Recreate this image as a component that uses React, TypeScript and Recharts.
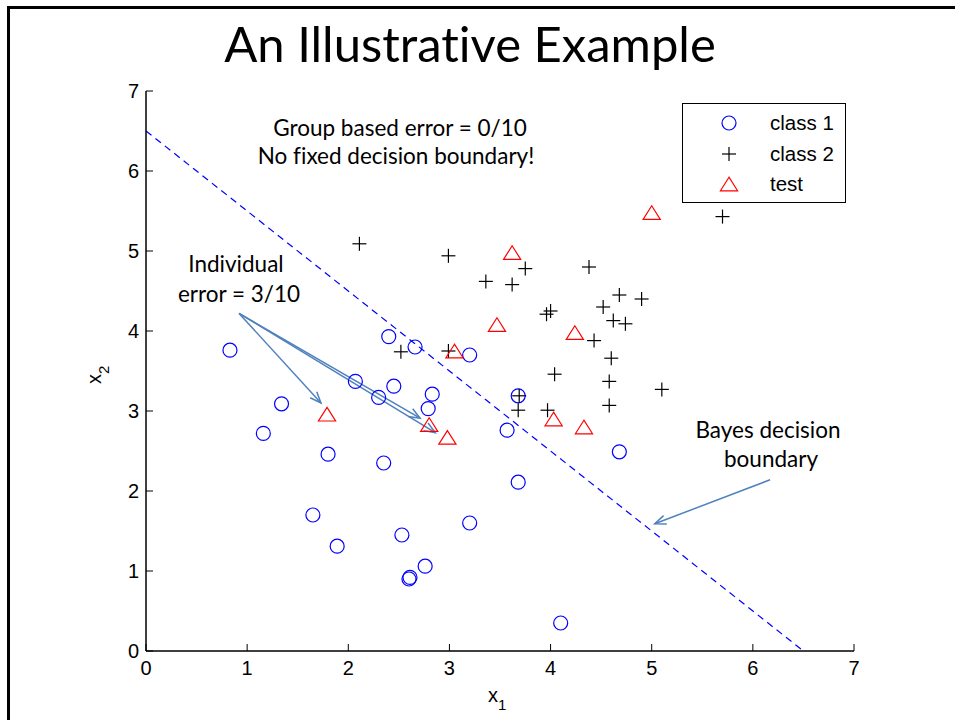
import { ScatterChart, Scatter, XAxis, YAxis, ReferenceLine } from 'recharts'

// class 1 (blue circles)
const class1X = [0.83, 1.34, 1.16, 1.80, 2.35, 2.07, 2.45, 2.30, 2.40, 2.66, 3.20, 2.83, 2.79, 3.68, 3.57, 4.68, 3.68, 1.65, 1.89, 2.53, 2.76, 2.61, 2.60, 3.20, 4.10]
const class1Y = [3.76, 3.09, 2.72, 2.46, 2.35, 3.37, 3.31, 3.17, 3.93, 3.80, 3.70, 3.21, 3.03, 3.19, 2.76, 2.49, 2.11, 1.70, 1.31, 1.45, 1.06, 0.92, 0.90, 1.60, 0.35]

// class 2 (black plus)
const class2X = [2.11, 2.99, 3.36, 2.52, 2.99, 3.75, 3.62, 4.38, 5.70, 4.68, 4.90, 4.52, 3.96, 4.00, 4.62, 4.74, 4.43, 4.60, 4.04, 4.58, 5.10, 3.69, 3.68, 3.97, 4.58]
const class2Y = [5.09, 4.94, 4.62, 3.74, 3.75, 4.78, 4.58, 4.80, 5.43, 4.45, 4.40, 4.30, 4.21, 4.25, 4.13, 4.09, 3.88, 3.66, 3.46, 3.37, 3.27, 3.19, 3.01, 3.01, 3.07]

// test points (red triangles)
const testX = [1.79, 2.80, 2.98, 3.05, 3.47, 3.62, 4.24, 4.03, 4.33, 5.00]
const testY = [2.96, 2.83, 2.67, 3.75, 4.08, 4.98, 3.98, 2.90, 2.80, 5.48]

const xTicks = [0, 1, 2, 3, 4, 5, 6, 7]
const yTicks = [0, 1, 2, 3, 4, 5, 6, 7]

// Bayes decision boundary x1 + x2 = 6.5
const boundary = [{ x: 0, y: 6.5 }, { x: 6.5, y: 0 }]

// annotation arrows (data units)
const pointerStart = { x: 0.92, y: 4.22 }
const pointerEnds = [{ x: 1.73, y: 3.1 }, { x: 2.71, y: 2.91 }, { x: 2.86, y: 2.73 }]
const bayesPointer = [{ x: 6.17, y: 2.14 }, { x: 5.03, y: 1.59 }]

const toPoints = (xs: number[], ys: number[]) => xs.map((x, i) => ({ x, y: ys[i] }))

const AXIS_FONT = '"Liberation Sans", Arial, sans-serif'
const SLIDE_FONT = 'Lato, "Open Sans", sans-serif'
const TICK_GAP = 10
const TICK_LEN = 7
const ARROW = '#4f81bd'

function BottomTick({ x, y, payload }: any) {
  const axisY = y - TICK_GAP
  return (
    <g>
      <line x1={x} y1={axisY} x2={x} y2={axisY - TICK_LEN} stroke="#000" />
      <text x={x} y={y} dy="0.71em" textAnchor="middle" fontSize={20} fontFamily={AXIS_FONT} fill="#000">
        {payload.value}
      </text>
    </g>
  )
}

function LeftTick({ x, y, payload }: any) {
  const axisX = x + TICK_GAP - 3
  return (
    <g>
      <line x1={axisX} y1={y} x2={axisX + TICK_LEN} y2={y} stroke="#000" />
      <text x={x} y={y} dy="0.355em" textAnchor="end" fontSize={20} fontFamily={AXIS_FONT} fill="#000">
        {payload.value}
      </text>
    </g>
  )
}

function TopTick({ x, y }: any) {
  const axisY = y + TICK_GAP
  return <line x1={x} y1={axisY} x2={x} y2={axisY + TICK_LEN} stroke="#000" />
}

function RightTick({ x, y }: any) {
  const axisX = x - TICK_GAP
  return <line x1={axisX} y1={y} x2={axisX - TICK_LEN} y2={y} stroke="#000" />
}

function CircleMark({ cx, cy }: any) {
  return <circle cx={cx} cy={cy} r={7} fill="none" stroke="#0000ff" strokeWidth={1.2} />
}

function PlusMark({ cx, cy }: any) {
  return (
    <g stroke="#000" strokeWidth={1.2}>
      <line x1={cx - 7} y1={cy} x2={cx + 7} y2={cy} />
      <line x1={cx} y1={cy - 7} x2={cx} y2={cy + 7} />
    </g>
  )
}

function TriangleMark({ cx, cy }: any) {
  const pts = `${cx},${cy - 6.8} ${cx - 8.6},${cy + 6.8} ${cx + 8.6},${cy + 6.8}`
  return <polygon points={pts} fill="none" stroke="#ff0000" strokeWidth={1.2} />
}

function Arrow({ x1, y1, x2, y2 }: any) {
  const ang = Math.atan2(y2 - y1, x2 - x1)
  const len = 12
  const spread = 0.38
  const a = `${x2 - len * Math.cos(ang - spread)},${y2 - len * Math.sin(ang - spread)}`
  const b = `${x2 - len * Math.cos(ang + spread)},${y2 - len * Math.sin(ang + spread)}`
  return (
    <g stroke={ARROW} strokeWidth={1.5} fill="none">
      <line x1={x1} y1={y1} x2={x2} y2={y2} />
      <polyline points={`${a} ${x2},${y2} ${b}`} />
    </g>
  )
}

function LegendBox() {
  const rows = [
    { label: 'class 1', mark: <circle cx={12} cy={12} r={7} fill="none" stroke="#0000ff" strokeWidth={1.2} /> },
    {
      label: 'class 2',
      mark: (
        <g stroke="#000" strokeWidth={1.2}>
          <line x1={5} y1={12} x2={19} y2={12} />
          <line x1={12} y1={5} x2={12} y2={19} />
        </g>
      ),
    },
    { label: 'test', mark: <polygon points="12,5.2 3.4,18.8 20.6,18.8" fill="none" stroke="#ff0000" strokeWidth={1.2} /> },
  ]
  return (
    <div
      style={{
        position: 'absolute',
        left: 682,
        top: 103,
        width: 162,
        height: 98,
        border: '1px solid #000',
        background: '#fff',
        fontFamily: AXIS_FONT,
        fontSize: 20.5,
        boxSizing: 'content-box',
      }}
    >
      {rows.map((r, i) => (
        <div key={i} style={{ position: 'absolute', left: 34, top: 7 + i * 30.5, height: 24, display: 'flex', alignItems: 'center' }}>
          <svg width={24} height={24}>{r.mark}</svg>
          <span style={{ marginLeft: 29, lineHeight: '24px' }}>{r.label}</span>
        </div>
      ))}
    </div>
  )
}

export default function App() {
  return (
    <div style={{ position: 'absolute', left: 0, top: 0, width: 955, height: 720, background: '#fff' }}>
      <ScatterChart width={955} height={720} margin={{ top: 91, right: 101, bottom: 29, left: 86 }}>
        <XAxis
          type="number"
          dataKey="x"
          domain={[0, 7]}
          ticks={xTicks}
          allowDataOverflow
          height={40}
          tickSize={0}
          tickMargin={TICK_GAP}
          tick={<BottomTick />}
          axisLine={{ stroke: '#000', strokeWidth: 1.5 }}
        />
        <XAxis
          xAxisId="top"
          orientation="top"
          type="number"
          domain={[0, 7]}
          ticks={xTicks}
          allowDataOverflow
          height={0}
          tickSize={0}
          tickMargin={TICK_GAP}
          tick={<TopTick />}
          axisLine={{ stroke: '#000', strokeWidth: 1.5 }}
        />
        <YAxis
          type="number"
          dataKey="y"
          domain={[0, 7]}
          ticks={yTicks}
          allowDataOverflow
          width={60}
          tickSize={0}
          tickMargin={TICK_GAP - 3}
          tick={<LeftTick />}
          axisLine={{ stroke: '#000', strokeWidth: 1.5 }}
        />
        <YAxis
          yAxisId="right"
          orientation="right"
          type="number"
          domain={[0, 7]}
          ticks={yTicks}
          allowDataOverflow
          width={0}
          tickSize={0}
          tickMargin={TICK_GAP}
          tick={<RightTick />}
          axisLine={{ stroke: '#000', strokeWidth: 1.5 }}
        />
        <ReferenceLine segment={boundary} stroke="#0000ff" strokeWidth={1.2} strokeDasharray="7 5" />
        {pointerEnds.map((p, i) => (
          <ReferenceLine key={i} segment={[pointerStart, p]} shape={<Arrow />} />
        ))}
        <ReferenceLine segment={bayesPointer} shape={<Arrow />} />
        <Scatter name="class 1" data={toPoints(class1X, class1Y)} shape={<CircleMark />} isAnimationActive={false} />
        <Scatter name="class 2" data={toPoints(class2X, class2Y)} shape={<PlusMark />} isAnimationActive={false} />
        <Scatter name="test" data={toPoints(testX, testY)} shape={<TriangleMark />} isAnimationActive={false} />
      </ScatterChart>

      <svg
        width={955}
        height={720}
        style={{ position: 'absolute', left: 0, top: 0, pointerEvents: 'none', fontVariantLigatures: 'none' }}
      >
        <polyline points="8.5,720 8.5,7.5 955,7.5" fill="none" stroke="#000" strokeWidth={3} />
        <text x={470} y={62} textAnchor="middle" fontFamily={SLIDE_FONT} fontSize={49} fill="#000">
          An Illustrative Example
        </text>
        <g fontFamily={SLIDE_FONT} fontSize={22.5} fill="#000" textAnchor="middle">
          <text x={400} y={136}>Group based error = 0/10</text>
          <text x={396} y={164}>No fixed decision boundary!</text>
          <text x={236} y={272}>Individual</text>
          <text x={239} y={302}>error = 3/10</text>
          <text x={768} y={438}>Bayes decision</text>
          <text x={771} y={467}>boundary</text>
        </g>
        <text x={488} y={702} fontFamily={AXIS_FONT} fontSize={20} fill="#000">
          x<tspan dy={8} fontSize={15}>1</tspan>
        </text>
        <text transform="translate(101,384) rotate(-90)" fontFamily={AXIS_FONT} fontSize={20} fill="#000">
          x<tspan dy={8} fontSize={15}>2</tspan>
        </text>
      </svg>

      <LegendBox />
    </div>
  )
}
